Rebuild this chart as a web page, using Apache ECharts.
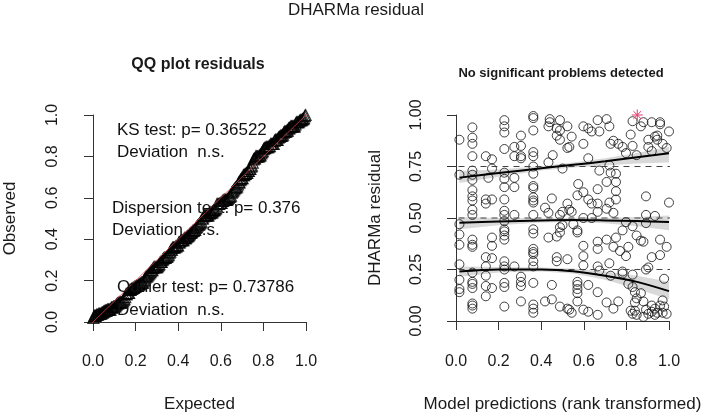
<!DOCTYPE html>
<html>
<head>
<meta charset="utf-8">
<title>DHARMa residual</title>
<script src="https://cdn.jsdelivr.net/npm/echarts@6/dist/echarts.min.js"></script>
<style>
  html, body { margin: 0; padding: 0; background: #fff; }
  #main { width: 709px; height: 417px; }
</style>
</head>
<body>
<div id="main"></div>
<script>
// rank transformed predictions (columns of tied ranks) and the residuals at each
var predCols = [0.016, 0.077, 0.14, 0.152, 0.169, 0.227, 0.274, 0.305, 0.363, 0.418,
    0.434, 0.44, 0.45, 0.454, 0.473, 0.488, 0.5, 0.523, 0.532, 0.543,
    0.551, 0.57, 0.574, 0.598, 0.621, 0.637, 0.665, 0.673, 0.707, 0.72,
    0.726, 0.739, 0.751, 0.762, 0.77, 0.782, 0.798, 0.809, 0.82, 0.829,
    0.84, 0.848, 0.868, 0.88, 0.892, 0.903, 0.919, 0.934, 0.945, 0.958,
    0.97, 0.977, 0.989, 1.0];
var residCols = [
    [0.88, 0.71, 0.47, 0.42, 0.37, 0.275, 0.20, 0.155, 0.14],
    [0.94, 0.89, 0.86, 0.80, 0.73, 0.71, 0.685, 0.635, 0.605, 0.585, 0.54, 0.515, 0.395, 0.37, 0.36, 0.235, 0.19, 0.18, 0.16, 0.085, 0.075, 0.06],
    [0.80, 0.59, 0.57, 0.31, 0.265, 0.22, 0.17, 0.12],
    [0.695],
    [0.785, 0.74, 0.59, 0.405, 0.365, 0.305, 0.16],
    [0.975, 0.945, 0.915, 0.835, 0.72, 0.69, 0.65, 0.59, 0.535, 0.515, 0.485, 0.445, 0.435, 0.415, 0.395, 0.29, 0.265, 0.25, 0.185, 0.165, 0.07],
    [0.845, 0.80, 0.695, 0.65, 0.515, 0.265],
    [0.90, 0.85, 0.80, 0.79, 0.215, 0.19, 0.17, 0.095],
    [0.995, 0.985, 0.925, 0.82, 0.80, 0.75, 0.715, 0.655, 0.645, 0.60, 0.585, 0.575, 0.515, 0.445, 0.425, 0.35, 0.335, 0.325, 0.29, 0.265, 0.185, 0.08, 0.06, 0.04],
    [0.55, 0.095],
    [0.945, 0.77, 0.525, 0.405],
    [0.98, 0.965],
    [0.595, 0.175, 0.105],
    [0.805],
    [0.935, 0.90, 0.41, 0.31, 0.29],
    [0.975, 0.925, 0.88, 0.515, 0.43, 0.455, 0.07],
    [0.74, 0.53, 0.465],
    [0.945, 0.84, 0.57, 0.30, 0.06],
    [0.845, 0.54, 0.055],
    [0.895, 0.53, 0.04],
    [0.47],
    [0.61, 0.44, 0.43, 0.19, 0.175, 0.155, 0.135, 0.095],
    [0.665],
    [0.945, 0.86, 0.625, 0.50, 0.365, 0.315, 0.27, 0.055],
    [0.935, 0.79, 0.59, 0.175, 0.045],
    [0.92, 0.57, 0.50],
    [0.975, 0.64, 0.57, 0.53, 0.385, 0.35, 0.265, 0.14, 0.03],
    [0.92, 0.73, 0.245],
    [0.98, 0.675, 0.545, 0.395, 0.09],
    [0.945, 0.755, 0.575, 0.28],
    [0.86, 0.72, 0.22],
    [0.875, 0.525, 0.36, 0.06],
    [0.715, 0.675, 0.63, 0.59, 0.405],
    [0.86, 0.095],
    [0.34],
    [0.845, 0.24, 0.23, 0.44],
    [0.815, 0.48, 0.315],
    [0.36, 0.18],
    [0.905, 0.05],
    [0.97, 0.85, 0.46, 0.225, 0.165, 0.035],
    [0.14, 0.05, 0.09],
    [0.805, 0.415, 0.11, 0.03],
    [0.945, 0.39, 0.135],
    [0.965, 0.385, 0.095, 0.02],
    [0.605, 0.515, 0.475, 0.25, 0.055],
    [0.88, 0.845, 0.26, 0.035],
    [0.965, 0.825, 0.31, 0.075, 0.045],
    [0.895, 0.51, 0.06, 0.03],
    [0.90, 0.88, 0.04],
    [0.965, 0.955, 0.395, 0.32, 0.075],
    [0.86, 0.04, 0.10],
    [0.205, 0.07],
    [0.84, 0.36, 0.035],
    [0.92, 0.575]
];
var outliers = [[0.851, 1.0]];

// quantile regression fits (0.25, 0.5, 0.75) with their confidence bands
var quantX = [0.016, 0.2, 0.4, 0.55, 0.7, 0.85, 1.0];
var q25Fit = [0.24, 0.25, 0.25, 0.242, 0.22, 0.19, 0.145];
var q25Lo = [0.215, 0.235, 0.24, 0.23, 0.2, 0.155, 0.105];
var q25Hi = [0.265, 0.262, 0.26, 0.255, 0.24, 0.22, 0.19];
var q50Fit = [0.477, 0.483, 0.488, 0.49, 0.488, 0.485, 0.48];
var q50Lo = [0.445, 0.465, 0.478, 0.48, 0.475, 0.46, 0.44];
var q50Hi = [0.505, 0.5, 0.498, 0.5, 0.5, 0.505, 0.512];
var q75Fit = [0.696, 0.718, 0.741, 0.758, 0.775, 0.795, 0.814];
var q75Lo = [0.67, 0.70, 0.73, 0.745, 0.755, 0.765, 0.77];
var q75Hi = [0.728, 0.735, 0.752, 0.77, 0.79, 0.815, 0.845];
var refLevels = [0.25, 0.5, 0.75];

var qqTicks = [0, 0.2, 0.4, 0.6, 0.8, 1.0];
var residTicks = [0, 0.25, 0.5, 0.75, 1.0];

var testLines = [
    ['KS test: p= 0.36522', 117, 130],
    ['Deviation  n.s.', 117, 152],
    ['Dispersion test: p= 0.376', 112, 208],
    ['Deviation  n.s.', 112, 230],
    ['Outlier test: p= 0.73786', 117, 287],
    ['Deviation  n.s.', 117, 310]
];

var FONT = '"Liberation Sans", Arial, sans-serif';
var INK = '#1a1a1a';

// scatter points and qq points
var residPoints = [];
var allResid = [];
predCols.forEach(function (x, i) {
    residCols[i].forEach(function (y) {
        residPoints.push([x, y]);
        allResid.push(y);
    });
});
outliers.forEach(function (p) {
    allResid.push(p[1]);
});
allResid.sort(function (a, b) { return a - b; });
var qqPoints = allResid.map(function (y, i) {
    return [(i + 0.5) / allResid.length, y];
});

function zip(xs, ys) {
    return xs.map(function (x, i) { return [x, ys[i]]; });
}

function makeAxis(gridIndex, ticks, digits, name, gap, isY, offset) {
    return {
        type: 'value',
        gridIndex: gridIndex,
        min: 0,
        max: 1,
        interval: ticks[1] - ticks[0],
        offset: offset,
        name: name,
        nameLocation: 'middle',
        nameGap: gap,
        nameTextStyle: { fontFamily: FONT, fontSize: 17, color: INK },
        axisLine: { show: true, lineStyle: { color: '#333', width: 1 } },
        axisTick: { show: true, inside: false, length: 9, lineStyle: { color: '#333' } },
        axisLabel: {
            show: true,
            margin: isY ? 22 : 24,
            rotate: isY ? 90 : 0,
            fontFamily: FONT,
            fontSize: 16,
            color: INK,
            formatter: function (v) { return v.toFixed(digits); }
        },
        splitLine: { show: false }
    };
}

function bandSeries(lo, hi) {
    return {
        type: 'custom',
        xAxisIndex: 1,
        yAxisIndex: 1,
        z: 2,
        silent: true,
        data: [0],
        renderItem: function (params, api) {
            var pts = [];
            var i;
            for (i = 0; i < quantX.length; i++) {
                pts.push(api.coord([quantX[i], hi[i]]));
            }
            for (i = quantX.length - 1; i >= 0; i--) {
                pts.push(api.coord([quantX[i], lo[i]]));
            }
            return {
                type: 'polygon',
                shape: { points: pts },
                style: { fill: 'rgba(160,160,160,0.4)' }
            };
        }
    };
}

function fitSeries(fit) {
    return {
        type: 'line',
        xAxisIndex: 1,
        yAxisIndex: 1,
        z: 5,
        data: zip(quantX, fit),
        smooth: 0.3,
        symbol: 'none',
        silent: true,
        lineStyle: { color: '#000', width: 2 }
    };
}

var series = [
    {
        type: 'scatter',
        xAxisIndex: 0,
        yAxisIndex: 0,
        data: qqPoints,
        symbol: 'triangle',
        symbolSize: 11,
        silent: true,
        itemStyle: { color: 'transparent', borderColor: '#000', borderWidth: 1.2 },
        z: 3
    },
    {
        type: 'line',
        xAxisIndex: 0,
        yAxisIndex: 0,
        data: [[-0.04, -0.04], [1.04, 1.04]],
        clip: false,
        symbol: 'none',
        silent: true,
        lineStyle: { color: 'rgba(225,70,80,0.75)', width: 1 },
        z: 4
    },
    {
        type: 'scatter',
        xAxisIndex: 1,
        yAxisIndex: 1,
        data: residPoints,
        symbol: 'circle',
        symbolSize: 9,
        silent: true,
        itemStyle: { color: 'transparent', borderColor: '#111', borderWidth: 1 },
        z: 3
    },
    {
        type: 'custom',
        xAxisIndex: 1,
        yAxisIndex: 1,
        data: outliers,
        z: 6,
        silent: true,
        renderItem: function (params, api) {
            var c = api.coord([api.value(0), api.value(1)]);
            var r = 5.5;
            var lines = [];
            for (var k = 0; k < 4; k++) {
                var a = k * Math.PI / 4;
                lines.push({
                    type: 'line',
                    shape: {
                        x1: c[0] - r * Math.cos(a), y1: c[1] - r * Math.sin(a),
                        x2: c[0] + r * Math.cos(a), y2: c[1] + r * Math.sin(a)
                    },
                    style: { stroke: '#e5396b', lineWidth: 1 }
                });
            }
            return { type: 'group', children: lines };
        }
    }
];

refLevels.forEach(function (lv) {
    series.push({
        type: 'line',
        xAxisIndex: 1,
        yAxisIndex: 1,
        data: [[-0.04, lv], [1.04, lv]],
        clip: false,
        symbol: 'none',
        silent: true,
        lineStyle: { color: '#444', width: 1, type: [6, 5] },
        z: 4
    });
});
series.push(bandSeries(q25Lo, q25Hi), bandSeries(q50Lo, q50Hi), bandSeries(q75Lo, q75Hi));
series.push(fitSeries(q25Fit), fitSeries(q50Fit), fitSeries(q75Fit));

var graphics = [
    {
        type: 'text', x: 356, y: 10, z: 10,
        style: { text: 'DHARMa residual', font: '17px ' + FONT, fill: INK, textAlign: 'center', textVerticalAlign: 'middle' }
    },
    {
        type: 'text', x: 198, y: 65, z: 10,
        style: { text: 'QQ plot residuals', font: 'bold 16px ' + FONT, fill: INK, textAlign: 'center', textVerticalAlign: 'middle' }
    },
    {
        type: 'text', x: 561, y: 73, z: 10,
        style: { text: 'No significant problems detected', font: 'bold 13px ' + FONT, fill: INK, textAlign: 'center', textVerticalAlign: 'middle' }
    }
];
testLines.forEach(function (t) {
    graphics.push({
        type: 'text', x: t[1], y: t[2], z: 10,
        style: { text: t[0], font: '17px ' + FONT, fill: '#111', textAlign: 'left', textVerticalAlign: 'middle' }
    });
});

var chart = echarts.init(document.getElementById('main'), null, { renderer: 'canvas' });
chart.setOption({
    animation: false,
    backgroundColor: '#fff',
    grid: [
        { left: 93, top: 115, width: 213, height: 207 },
        { left: 456, top: 115, width: 213, height: 206 }
    ],
    xAxis: [
        makeAxis(0, qqTicks, 1, 'Expected', 66, false, 8),
        makeAxis(1, qqTicks, 1, 'Model predictions (rank transformed)', 66, false, 9)
    ],
    yAxis: [
        makeAxis(0, qqTicks, 1, 'Observed', 64, true, 10),
        makeAxis(1, residTicks, 2, 'DHARMa residual', 63, true, 9)
    ],
    series: series,
    graphic: graphics
});
</script>
</body>
</html>
